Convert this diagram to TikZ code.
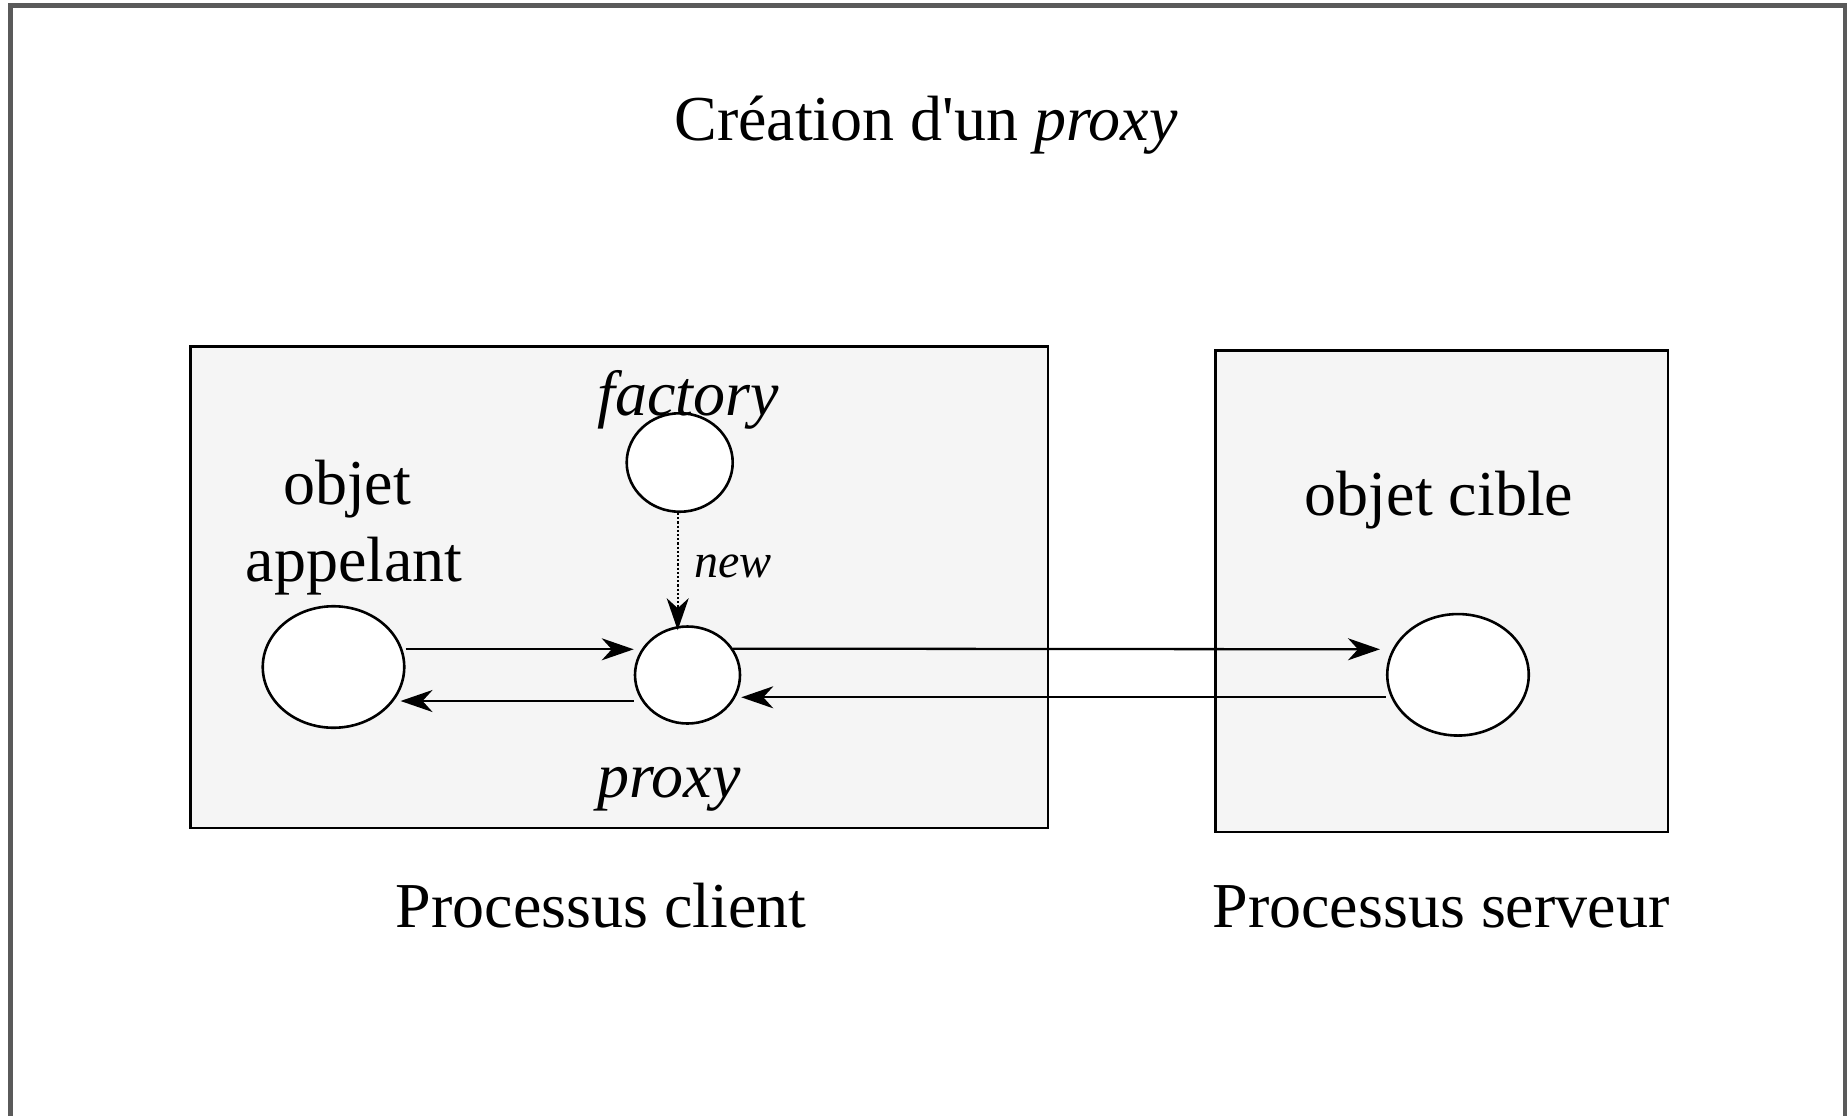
\documentclass[tikz,border=0pt]{standalone}
\usepackage{fontspec}
\setmainfont{Liberation Serif}
\usetikzlibrary{shapes.geometric,arrows.meta}

\begin{document}
\begin{tikzpicture}[x=1pt,y=-1pt,
  txt/.style={anchor=base,inner sep=0pt,font=\fontsize{64}{77}\selectfont},
  small/.style={anchor=base west,inner sep=0pt,font=\fontsize{48}{58}\selectfont\itshape},
  proc/.style={draw=black,line width=2.6pt,fill={rgb,255:red,245;green,245;blue,245}},
  obj/.style={draw=black,line width=2.6pt,fill=white,ellipse,inner sep=0pt},
  arr/.style={line width=2.3pt,-{Stealth[length=32pt,width=22pt,inset=10pt]}},
  dots/.style={arr,dash pattern=on 2.2pt off 2pt}]
\useasboundingbox (0,0) rectangle (1847,1116);
\fill[white] (0,0) rectangle (1847,1116);
% outer frame, running past the lower edge
\begin{scope}
  \clip (0,0) rectangle (1847,1116);
  \draw[line width=5.2pt,draw={rgb,255:red,90;green,90;blue,90}] (10.7,5.8) rectangle (1845.6,1140);
\end{scope}

\node[txt] (title) at (926,140) {Création d\textquotesingle un \textit{proxy}};

% process boxes
\draw[proc] (190.7,346.3) rectangle (1048,828);
\draw[proc] (1215.3,350.3) rectangle (1668,832);

% objects
\node[obj,minimum width=141.5pt,minimum height=121.5pt] (caller) at (333.5,667) {};
\node[obj,minimum width=106pt,minimum height=98.5pt] (factory) at (679.7,462.5) {};
\node[obj,minimum width=105pt,minimum height=97pt] (proxy) at (687.5,675) {};
\node[obj,minimum width=141.5pt,minimum height=121.5pt] (target) at (1458,674.8) {};

% labels
\node[txt] (lfactory) at (688,415) {\textit{factory}};
\node[txt] (lobjet) at (347,504) {objet};
\node[txt] (lappelant) at (354,581) {appelant};
\node[small] (lnew) at (694,577) {new};
\node[txt] (lcible) at (1439,515) {objet cible};
\node[txt] (lproxy) at (669,797) {\textit{proxy}};
\node[txt] (lclient) at (601,927) {Processus client};
\node[txt] (lserveur) at (1441,927) {Processus serveur};

% connectors
\draw[dots] ([xshift=-2pt]factory.south) -- ([xshift=-2pt,yshift=-5pt]factory.south |- proxy.north);
\draw[arr] ([yshift=17.7pt]caller.east) -- ([yshift=25.7pt]proxy.west);
\draw[arr] ([yshift=-26pt]proxy.west) -- ([xshift=-5pt,yshift=-34pt]caller.east);
\draw[arr] (proxy.30) -- ([xshift=-6pt,yshift=25.5pt]target.west);
\draw[arr] ([yshift=-22.5pt]target.west) -- ([yshift=-22.3pt]proxy.east);
\end{tikzpicture}
\end{document}
